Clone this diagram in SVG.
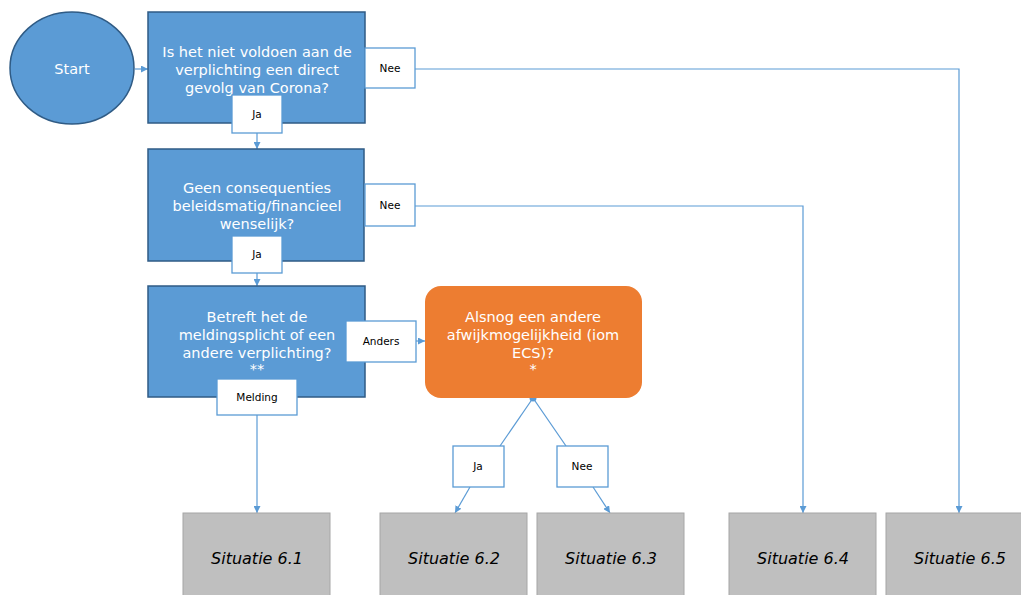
<svg xmlns="http://www.w3.org/2000/svg" width="1021" height="595" viewBox="0 0 1021 595">
<defs>
<marker id="arr" viewBox="0 0 8 8" refX="8" refY="4" markerWidth="7" markerHeight="7" markerUnits="userSpaceOnUse" orient="auto">
<path d="M0,0 L8,4 L0,8 Z" fill="#5B9BD5"/>
</marker>
<style>
.blue{fill:#5B9BD5;stroke:#2F5B85;stroke-width:1.5}
.orange{fill:#ED7D31;stroke:none}
.grey{fill:#BFBFBF;stroke:#A6A6A6;stroke-width:1}
.lbl{fill:#FFFFFF;stroke:#5B9BD5;stroke-width:1.3}
.wt{font-family:"DejaVu Sans",Verdana,sans-serif;font-size:14.5px;fill:#FFFFFF;text-anchor:middle}
.lt{font-family:"DejaVu Sans",Verdana,sans-serif;font-size:10.5px;fill:#000000;text-anchor:middle}
.st{font-family:"DejaVu Sans",Verdana,sans-serif;font-size:16px;font-style:italic;fill:#000000;text-anchor:middle}
.con{fill:none;stroke:#5B9BD5;stroke-width:1.2}
</style>
</defs>
<rect width="1021" height="595" fill="#FFFFFF"/>

<g id="connectors">
<line class="con" x1="135" y1="69" x2="148" y2="69" marker-end="url(#arr)"/>
<polyline class="con" points="415,69 959,69 959,513" marker-end="url(#arr)"/>
<polyline class="con" points="415,206 803,206 803,513" marker-end="url(#arr)"/>
<line class="con" x1="257" y1="133" x2="257" y2="149" marker-end="url(#arr)"/>
<line class="con" x1="257" y1="273" x2="257" y2="286" marker-end="url(#arr)"/>
<line class="con" x1="416" y1="341" x2="425" y2="341" marker-end="url(#arr)"/>
<line class="con" x1="257" y1="415" x2="257" y2="513" marker-end="url(#arr)"/>
<line class="con" x1="533" y1="398" x2="500" y2="446"/>
<line class="con" x1="533" y1="398" x2="566" y2="446"/>
<line class="con" x1="470" y1="487" x2="455" y2="513" marker-end="url(#arr)"/>
<line class="con" x1="593" y1="487" x2="610" y2="513" marker-end="url(#arr)"/>
<circle cx="533" cy="398" r="3.5" fill="#5B9BD5"/>
</g>

<g id="start">
<ellipse class="blue" cx="72" cy="68" rx="62" ry="56"/>
<text class="wt" x="72" y="74" font-size="15.5">Start</text>
</g>

<g id="q1">
<rect class="blue" x="148" y="12" width="217" height="111"/>
<text class="wt" x="257" y="57">Is het niet voldoen aan de</text>
<text class="wt" x="257" y="75">verplichting een direct</text>
<text class="wt" x="257" y="93">gevolg van Corona?</text>
</g>

<g id="q2">
<rect class="blue" x="148" y="149" width="216" height="112"/>
<text class="wt" x="257" y="193">Geen consequenties</text>
<text class="wt" x="257" y="211">beleidsmatig/financieel</text>
<text class="wt" x="257" y="229">wenselijk?</text>
</g>

<g id="q3">
<rect class="blue" x="148" y="286" width="217" height="111"/>
<text class="wt" x="257" y="322">Betreft het de</text>
<text class="wt" x="257" y="340">meldingsplicht of een</text>
<text class="wt" x="257" y="358">andere verplichting?</text>
<text class="wt" x="257" y="374">**</text>
</g>

<g id="q4">
<rect class="orange" x="425" y="286" width="217" height="112" rx="16" ry="16"/>
<text class="wt" x="533" y="322">Alsnog een andere</text>
<text class="wt" x="533" y="340">afwijkmogelijkheid (iom</text>
<text class="wt" x="533" y="358">ECS)?</text>
<text class="wt" x="533" y="374">*</text>
</g>

<g id="lbl-nee1">
<rect class="lbl" x="365" y="48" width="50" height="40"/>
<text class="lt" x="390" y="72">Nee</text>
</g>
<g id="lbl-ja1">
<rect class="lbl" x="232" y="95" width="50" height="38"/>
<text class="lt" x="257" y="118">Ja</text>
</g>
<g id="lbl-nee2">
<rect class="lbl" x="365" y="184" width="50" height="42"/>
<text class="lt" x="390" y="209">Nee</text>
</g>
<g id="lbl-ja2">
<rect class="lbl" x="232" y="236" width="50" height="37"/>
<text class="lt" x="257" y="258">Ja</text>
</g>
<g id="lbl-anders">
<rect class="lbl" x="346" y="321" width="70" height="41"/>
<text class="lt" x="381" y="345">Anders</text>
</g>
<g id="lbl-melding">
<rect class="lbl" x="217" y="379" width="80" height="36"/>
<text class="lt" x="257" y="401">Melding</text>
</g>
<g id="lbl-ja3">
<rect class="lbl" x="453" y="446" width="51" height="41"/>
<text class="lt" x="478" y="470">Ja</text>
</g>
<g id="lbl-nee3">
<rect class="lbl" x="557" y="446" width="51" height="41"/>
<text class="lt" x="582" y="470">Nee</text>
</g>

<g id="s61">
<rect class="grey" x="183" y="513" width="147" height="90"/>
<text class="st" x="257" y="564">Situatie 6.1</text>
</g>
<g id="s62">
<rect class="grey" x="380" y="513" width="147" height="90"/>
<text class="st" x="454" y="564">Situatie 6.2</text>
</g>
<g id="s63">
<rect class="grey" x="537" y="513" width="147" height="90"/>
<text class="st" x="611" y="564">Situatie 6.3</text>
</g>
<g id="s64">
<rect class="grey" x="729" y="513" width="147" height="90"/>
<text class="st" x="803" y="564">Situatie 6.4</text>
</g>
<g id="s65">
<rect class="grey" x="886" y="513" width="147" height="90"/>
<text class="st" x="960" y="564">Situatie 6.5</text>
</g>
</svg>
